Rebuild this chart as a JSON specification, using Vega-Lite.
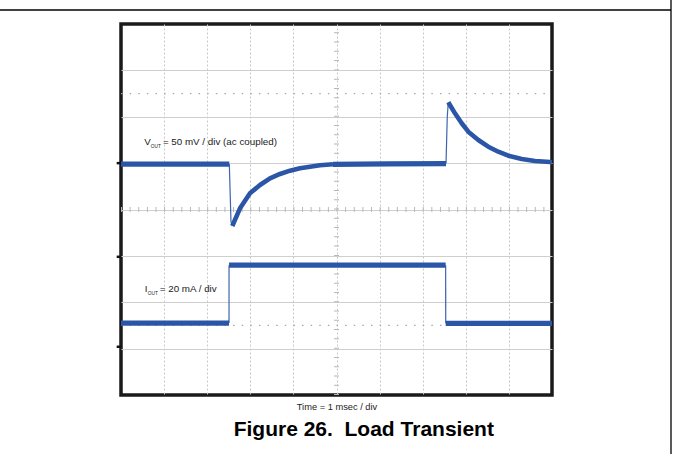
{
  "$schema": "https://vega.github.io/schema/vega-lite/v6.json",
  "width": 431,
  "height": 371,
  "autosize": {"type": "none"},
  "padding": {"left": 121, "top": 24, "right": 121, "bottom": 59},
  "background": "white",
  "config": {"view": {"stroke": "#1a1a1a", "strokeWidth": 3.5}},
  "datasets": {
    "traces": [
      {"ch": "Vout", "seg": "V1", "kind": "flat", "t": 0, "y": 0.98},
      {"ch": "Vout", "seg": "V1", "kind": "flat", "t": 2.513, "y": 0.98},
      {"ch": "Vout", "seg": "V2", "kind": "edge", "t": 2.513, "y": 0.98},
      {"ch": "Vout", "seg": "V2", "kind": "edge", "t": 2.552, "y": -0.26},
      {"ch": "Vout", "seg": "V2", "kind": "edge", "t": 2.582, "y": -0.356},
      {"ch": "Vout", "seg": "V3", "kind": "curve", "t": 2.582, "y": -0.356},
      {"ch": "Vout", "seg": "V3", "kind": "curve", "t": 2.761, "y": 0.026},
      {"ch": "Vout", "seg": "V3", "kind": "curve", "t": 2.993, "y": 0.349},
      {"ch": "Vout", "seg": "V3", "kind": "curve", "t": 3.225, "y": 0.528},
      {"ch": "Vout", "seg": "V3", "kind": "curve", "t": 3.457, "y": 0.673},
      {"ch": "Vout", "seg": "V3", "kind": "curve", "t": 3.689, "y": 0.766},
      {"ch": "Vout", "seg": "V3", "kind": "curve", "t": 3.921, "y": 0.837},
      {"ch": "Vout", "seg": "V3", "kind": "curve", "t": 4.153, "y": 0.888},
      {"ch": "Vout", "seg": "V3", "kind": "curve", "t": 4.385, "y": 0.923},
      {"ch": "Vout", "seg": "V3", "kind": "curve", "t": 4.617, "y": 0.953},
      {"ch": "Vout", "seg": "V3", "kind": "curve", "t": 4.919, "y": 0.975},
      {"ch": "Vout", "seg": "V4", "kind": "flat", "t": 4.919, "y": 0.975},
      {"ch": "Vout", "seg": "V4", "kind": "flat", "t": 6.2, "y": 0.985},
      {"ch": "Vout", "seg": "V4", "kind": "flat", "t": 7.541, "y": 0.99},
      {"ch": "Vout", "seg": "V5", "kind": "edge", "t": 7.541, "y": 0.99},
      {"ch": "Vout", "seg": "V5", "kind": "edge", "t": 7.57, "y": 2.0},
      {"ch": "Vout", "seg": "V5", "kind": "edge", "t": 7.594, "y": 2.312},
      {"ch": "Vout", "seg": "V6", "kind": "curve", "t": 7.594, "y": 2.312},
      {"ch": "Vout", "seg": "V6", "kind": "curve", "t": 7.749, "y": 2.074},
      {"ch": "Vout", "seg": "V6", "kind": "curve", "t": 7.905, "y": 1.859},
      {"ch": "Vout", "seg": "V6", "kind": "curve", "t": 8.058, "y": 1.678},
      {"ch": "Vout", "seg": "V6", "kind": "curve", "t": 8.29, "y": 1.499},
      {"ch": "Vout", "seg": "V6", "kind": "curve", "t": 8.522, "y": 1.354},
      {"ch": "Vout", "seg": "V6", "kind": "curve", "t": 8.754, "y": 1.246},
      {"ch": "Vout", "seg": "V6", "kind": "curve", "t": 8.986, "y": 1.16},
      {"ch": "Vout", "seg": "V6", "kind": "curve", "t": 9.297, "y": 1.089},
      {"ch": "Vout", "seg": "V6", "kind": "curve", "t": 9.606, "y": 1.046},
      {"ch": "Vout", "seg": "V6", "kind": "curve", "t": 9.954, "y": 1.024},
      {"ch": "Vout", "seg": "V6", "kind": "curve", "t": 10, "y": 1.02},
      {"ch": "Iout", "seg": "I1", "kind": "flat", "t": 0, "y": -2.45},
      {"ch": "Iout", "seg": "I1", "kind": "flat", "t": 2.506, "y": -2.45},
      {"ch": "Iout", "seg": "I2", "kind": "edge", "t": 2.506, "y": -2.45},
      {"ch": "Iout", "seg": "I2", "kind": "edge", "t": 2.507, "y": -1.2},
      {"ch": "Iout", "seg": "I3", "kind": "flat", "t": 2.507, "y": -1.2},
      {"ch": "Iout", "seg": "I3", "kind": "flat", "t": 7.533, "y": -1.2},
      {"ch": "Iout", "seg": "I4", "kind": "edge", "t": 7.533, "y": -1.2},
      {"ch": "Iout", "seg": "I4", "kind": "edge", "t": 7.534, "y": -2.455},
      {"ch": "Iout", "seg": "I5", "kind": "flat", "t": 7.534, "y": -2.455},
      {"ch": "Iout", "seg": "I5", "kind": "flat", "t": 10, "y": -2.455}
    ],
    "guides": [
      {"g": "hdots", "t": 0, "t2": 10, "y": 2.5, "y2": 2.5},
      {"g": "hdots", "t": 0, "t2": 10, "y": -2.5, "y2": -2.5},
      {"g": "hticks", "t": 0, "t2": 10, "y": 0, "y2": 0},
      {"g": "vticks", "t": 5, "t2": 5, "y": -4, "y2": 4},
      {"g": "marker", "t": -0.1, "t2": 0, "y": 1.0, "y2": 1.0},
      {"g": "marker", "t": -0.1, "t2": 0, "y": -1.02, "y2": -1.02},
      {"g": "marker", "t": -0.1, "t2": 0, "y": -2.96, "y2": -2.96},
      {"g": "frame", "t": -2.9, "t2": 12.761, "y": 4.302, "y2": 4.302},
      {"g": "frame", "t": 12.761, "t2": 12.761, "y": 4.6, "y2": -5.4}
    ],
    "labels": [
      {"role": "main", "t": 0.541, "y": 1.391, "label": "V"},
      {"role": "sub", "t": 0.69, "y": 1.335, "label": "OUT"},
      {"role": "main", "t": 0.972, "y": 1.391, "label": "= 50 mV / div (ac coupled)"},
      {"role": "main", "t": 0.552, "y": -1.785, "label": "I"},
      {"role": "sub", "t": 0.62, "y": -1.845, "label": "OUT"},
      {"role": "main", "t": 0.9, "y": -1.785, "label": "= 20 mA / div"},
      {"role": "caption", "t": 5.633, "y": -4.884, "label": "Figure 26.\u00a0 Load Transient"}
    ]
  },
  "encoding": {
    "x": {
      "field": "t",
      "type": "quantitative",
      "scale": {"domain": [0, 10], "nice": false, "zero": false},
      "axis": {
        "title": "Time = 1 msec / div",
        "labels": false,
        "ticks": false,
        "domain": false,
        "grid": true,
        "values": [1, 2, 3, 4, 5, 6, 7, 8, 9],
        "gridColor": "#c8c8c8",
        "gridDash": [2, 2],
        "gridWidth": 1,
        "titleFont": "Liberation Sans, Arial, sans-serif",
        "titleFontSize": 9.3,
        "titleFontWeight": "normal",
        "titleColor": "#222222",
        "titlePadding": 7
      }
    },
    "y": {
      "field": "y",
      "type": "quantitative",
      "scale": {"domain": [-4, 4], "nice": false, "zero": false},
      "axis": {
        "title": null,
        "labels": false,
        "ticks": false,
        "domain": false,
        "grid": true,
        "values": [-3, -2, -1, 0, 1, 2, 3],
        "gridColor": "#cfcfcf",
        "gridWidth": 1
      }
    }
  },
  "layer": [
    {
      "data": {"name": "guides"},
      "transform": [{"filter": "datum.g === 'hdots'"}],
      "mark": {"type": "rule", "color": "#a8a8a8", "strokeWidth": 1.2, "strokeDash": [1.5, 7.12]},
      "encoding": {"x2": {"field": "t2"}, "y2": {"field": "y2"}}
    },
    {
      "data": {"name": "guides"},
      "transform": [{"filter": "datum.g === 'hticks'"}],
      "mark": {"type": "rule", "color": "#b8b8b8", "strokeWidth": 5, "strokeDash": [1, 7.62]},
      "encoding": {"x2": {"field": "t2"}, "y2": {"field": "y2"}}
    },
    {
      "data": {"name": "guides"},
      "transform": [{"filter": "datum.g === 'vticks'"}],
      "mark": {"type": "rule", "color": "#b8b8b8", "strokeWidth": 5, "strokeDash": [1, 8.275]},
      "encoding": {"x2": {"field": "t2"}, "y2": {"field": "y2"}}
    },
    {
      "data": {"name": "traces"},
      "transform": [{"filter": "datum.kind === 'edge'"}],
      "mark": {"type": "line", "color": "#3d64b0", "strokeWidth": 1.2, "strokeCap": "butt"},
      "encoding": {"detail": {"field": "seg"}}
    },
    {
      "data": {"name": "traces"},
      "transform": [{"filter": "datum.kind === 'curve'"}],
      "mark": {"type": "line", "color": "#2b56a8", "strokeWidth": 4.6, "strokeCap": "butt", "strokeJoin": "round"},
      "encoding": {"detail": {"field": "seg"}}
    },
    {
      "data": {"name": "traces"},
      "transform": [{"filter": "datum.kind === 'flat'"}],
      "mark": {"type": "line", "color": "#2b56a8", "strokeWidth": 5.2, "strokeCap": "butt"},
      "encoding": {"detail": {"field": "seg"}}
    },
    {
      "data": {"name": "guides"},
      "transform": [{"filter": "datum.g === 'marker'"}],
      "mark": {"type": "rule", "color": "#111111", "strokeWidth": 2.5},
      "encoding": {"x2": {"field": "t2"}, "y2": {"field": "y2"}}
    },
    {
      "data": {"name": "guides"},
      "transform": [{"filter": "datum.g === 'frame'"}],
      "mark": {"type": "rule", "color": "#000000", "strokeWidth": 1.3},
      "encoding": {"x2": {"field": "t2"}, "y2": {"field": "y2"}}
    },
    {
      "data": {"name": "labels"},
      "transform": [{"filter": "datum.role === 'main'"}],
      "mark": {"type": "text", "align": "left", "baseline": "alphabetic", "font": "Liberation Sans, Arial, sans-serif", "fontSize": 9.8, "color": "#222222"},
      "encoding": {"text": {"field": "label"}}
    },
    {
      "data": {"name": "labels"},
      "transform": [{"filter": "datum.role === 'sub'"}],
      "mark": {"type": "text", "align": "left", "baseline": "alphabetic", "font": "Liberation Sans, Arial, sans-serif", "fontSize": 4.8, "color": "#222222"},
      "encoding": {"text": {"field": "label"}}
    },
    {
      "data": {"name": "labels"},
      "transform": [{"filter": "datum.role === 'caption'"}],
      "mark": {"type": "text", "align": "center", "baseline": "alphabetic", "font": "Liberation Sans, Arial, sans-serif", "fontSize": 21, "fontWeight": "bold", "color": "#000000"},
      "encoding": {"text": {"field": "label"}}
    }
  ]
}
